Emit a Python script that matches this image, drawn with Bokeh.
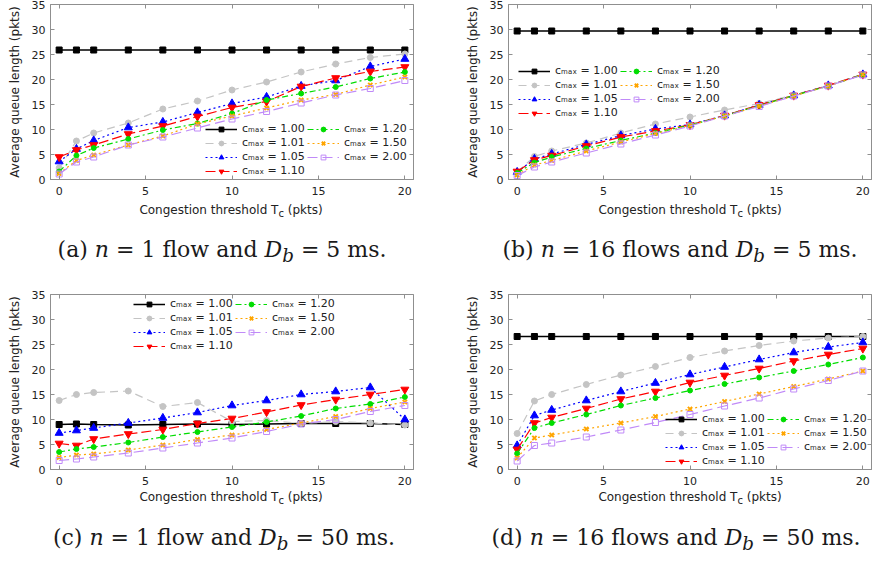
from bokeh.plotting import figure
from bokeh.models import (Range1d, FixedTicker, LinearAxis, Legend, LegendItem,
                          Div, ColumnDataSource)
from bokeh.layouts import column, row
from bokeh.embed import file_html
from bokeh.resources import INLINE

# ---------------- data ----------------
TC = [0, 1, 2, 4, 6, 8, 10, 12, 14, 16, 18, 20]
CMAX = ["1.00", "1.01", "1.05", "1.10", "1.20", "1.50", "2.00"]
X_TICKS = [0, 5, 10, 15, 20]
Y_TICKS = [0, 5, 10, 15, 20, 25, 30, 35]

# (a) n = 1 flow, Db = 5 ms
a_100 = [25.9, 25.9, 25.9, 25.9, 25.9, 25.9, 25.9, 25.9, 25.9, 25.9, 25.9, 25.9]
a_101 = [2.3, 7.7, 9.3, 11.3, 14.1, 15.7, 17.9, 19.5, 21.5, 23.1, 24.4, 25.1]
a_105 = [3.6, 6.1, 7.8, 10.4, 11.5, 13.4, 15.2, 16.5, 18.7, 19.8, 22.6, 24.1]
a_110 = [4.5, 5.9, 6.9, 9.1, 10.7, 12.6, 14.4, 15.6, 18.6, 20.3, 21.6, 22.5]
a_120 = [1.6, 4.8, 6.3, 8.1, 9.9, 11.2, 13.2, 15.9, 17.2, 18.5, 20.2, 21.5]
a_150 = [1.2, 3.8, 4.9, 6.9, 8.7, 11.1, 12.7, 14.3, 15.9, 17.0, 18.9, 20.5]
a_200 = [1.1, 3.5, 4.5, 6.9, 8.5, 10.3, 12.1, 13.6, 15.3, 16.9, 18.2, 19.8]

# (b) n = 16 flows, Db = 5 ms
b_100 = [29.7, 29.7, 29.7, 29.7, 29.7, 29.7, 29.7, 29.7, 29.7, 29.7, 29.7, 29.7]
b_101 = [1.5, 4.6, 5.7, 7.3, 9.3, 11.1, 12.5, 13.9, 15.2, 16.9, 18.8, 21.1]
b_105 = [1.5, 4.1, 5.1, 7.0, 8.8, 10.1, 11.0, 12.8, 14.9, 16.8, 18.8, 21.0]
b_110 = [1.6, 3.9, 4.8, 6.7, 8.5, 9.7, 10.9, 12.8, 14.9, 16.8, 18.8, 21.0]
b_120 = [1.3, 3.4, 4.5, 6.2, 7.8, 9.3, 10.9, 12.7, 14.8, 16.8, 18.7, 21.0]
b_150 = [0.9, 2.9, 3.8, 5.7, 7.5, 9.2, 10.8, 12.7, 14.7, 16.7, 18.7, 21.0]
b_200 = [0.8, 2.5, 3.5, 5.3, 7.1, 8.9, 10.7, 12.7, 14.6, 16.7, 18.7, 20.9]

# (c) n = 1 flow, Db = 50 ms
c_100 = [9.0, 9.1, 9.0, 8.9, 9.0, 9.1, 9.0, 9.1, 9.2, 9.2, 9.2, 9.0]
c_101 = [13.8, 15.0, 15.4, 15.7, 12.6, 13.4, 9.6, 9.8, 9.2, 9.6, 9.3, 8.9]
c_105 = [7.3, 7.8, 8.3, 9.3, 10.3, 11.4, 12.8, 13.8, 15.0, 15.6, 16.4, 10.0]
c_110 = [5.2, 4.8, 6.1, 7.1, 8.0, 9.2, 10.2, 11.5, 12.9, 14.0, 15.0, 16.0]
c_120 = [3.5, 4.1, 4.5, 5.4, 6.5, 7.5, 8.5, 9.5, 10.7, 12.2, 13.1, 14.5]
c_150 = [2.4, 2.9, 3.1, 3.9, 4.9, 6.0, 6.9, 8.0, 9.3, 10.6, 12.2, 13.5]
c_200 = [1.8, 2.1, 2.5, 3.3, 4.3, 5.3, 6.3, 7.6, 9.1, 10.0, 11.6, 12.8]

# (d) n = 16 flows, Db = 50 ms
d_100 = [26.6, 26.6, 26.6, 26.6, 26.6, 26.6, 26.6, 26.6, 26.6, 26.6, 26.6, 26.6]
d_101 = [7.2, 13.7, 15.0, 17.0, 18.9, 20.6, 22.4, 23.7, 24.8, 25.7, 26.3, 26.6]
d_105 = [4.8, 10.8, 11.9, 13.8, 15.6, 17.3, 19.0, 20.5, 22.0, 23.4, 24.5, 25.4]
d_110 = [4.0, 9.3, 10.4, 12.2, 14.1, 15.6, 17.4, 18.8, 20.2, 21.7, 23.0, 24.2]
d_120 = [3.2, 8.3, 9.3, 11.0, 12.8, 14.3, 15.8, 17.1, 18.4, 19.7, 21.0, 22.4]
d_150 = [2.3, 6.3, 6.9, 8.1, 9.3, 10.6, 12.1, 13.6, 15.1, 16.6, 18.1, 19.7]
d_200 = [1.7, 4.8, 5.3, 6.5, 7.9, 9.4, 11.0, 12.7, 14.3, 16.1, 17.8, 19.7]

X_TITLE = "Congestion threshold T<sub>c</sub> (pkts)"
Y_TITLE = "Average queue length (pkts)"
CAPTIONS = [
    "(a) <i>n</i> = 1 flow and <i>D<sub>b</sub></i> = 5 ms.",
    "(b) <i>n</i> = 16 flows and <i>D<sub>b</sub></i> = 5 ms.",
    "(c) <i>n</i> = 1 flow and <i>D<sub>b</sub></i> = 50 ms.",
    "(d) <i>n</i> = 16 flows and <i>D<sub>b</sub></i> = 50 ms.",
]

# ---------------- styles ----------------
GRAY = "#8f8f8f"
FONT = "DejaVu Sans"
STYLES = [
    dict(color="#000000", dash="solid", marker="square", size=6, fill=True, lw=1.4),
    dict(color="#c4c4c4", dash="8 5", marker="circle", size=6, fill=True, lw=1.2),
    dict(color="#0000ff", dash="2 3", marker="triangle", size=8, fill=True, lw=1.2),
    dict(color="#ff0000", dash="10 4", marker="inverted_triangle", size=8, fill=True, lw=1.2),
    dict(color="#00dd00", dash="6 3 2 3", marker="circle", size=5, fill=True, lw=1.2),
    dict(color="#ffa500", dash="2 3", marker="x", size=6, fill=True, lw=1.2),
    dict(color="#c08af8", dash="10 5", marker="square", size=6, fill=False, lw=1.2),
]


def make_panel(series, legend_xy, left_border, right_border):
    p = figure(width=436, height=200, x_range=Range1d(-0.5, 20.5),
               y_range=Range1d(0, 35), output_backend="svg", toolbar_location=None,
               min_border_left=left_border, min_border_right=right_border,
               min_border_top=4, min_border_bottom=21)
    p.xgrid.visible = False
    p.ygrid.visible = False
    p.outline_line_color = GRAY
    p.outline_line_width = 1

    p.xaxis.ticker = FixedTicker(ticks=X_TICKS)
    p.yaxis.ticker = FixedTicker(ticks=Y_TICKS)
    for ax in (p.xaxis[0], p.yaxis[0]):
        ax.axis_line_color = GRAY
        ax.major_tick_line_color = GRAY
        ax.major_tick_in = 4
        ax.major_tick_out = 0
        ax.minor_tick_line_color = None
        ax.major_label_text_font = FONT
        ax.major_label_text_font_size = "11px"
        ax.major_label_text_color = "#222222"
    p.xaxis.major_label_standoff = 7
    p.yaxis.major_label_standoff = 5
    p.yaxis.axis_label = Y_TITLE
    p.yaxis.axis_label_text_font = FONT
    p.yaxis.axis_label_text_font_size = "12px"
    p.yaxis.axis_label_text_font_style = "normal"
    p.yaxis.axis_label_text_color = "#222222"
    p.yaxis.axis_label_standoff = 7

    # mirrored ticks on top and right
    for loc, ticks in (("above", X_TICKS), ("right", Y_TICKS)):
        ax = LinearAxis(ticker=FixedTicker(ticks=ticks), axis_line_color=None,
                        major_tick_line_color=GRAY, major_tick_in=4, major_tick_out=0,
                        minor_tick_line_color=None, major_label_standoff=0,
                        major_label_text_font_size="1px",
                        major_label_overrides={t: "" for t in ticks})
        p.add_layout(ax, loc)

    items = []
    for i, (vals, st) in enumerate(zip(series, STYLES)):
        src = ColumnDataSource(dict(x=TC, y=vals))
        ln = p.line("x", "y", source=src, line_color=st["color"], line_width=st["lw"],
                    line_dash=st["dash"])
        sc = p.scatter("x", "y", source=src, marker=st["marker"], size=st["size"],
                       line_color=st["color"],
                       fill_color=st["color"] if st["fill"] else None,
                       line_width=2 if st["marker"] == "x" else 1)
        items.append(LegendItem(label="cₘₐₓ = " + CMAX[i], renderers=[ln, sc]))

    legend = Legend(items=items, location=legend_xy, ncols=2,
                    background_fill_alpha=0, border_line_color=None,
                    padding=0, margin=0, spacing=1,
                    glyph_width=32, glyph_height=12, label_height=12,
                    label_standoff=5, label_width=64,
                    label_text_font=FONT, label_text_font_size="11px",
                    label_text_color="#222222")
    p.add_layout(legend)
    return p


def titles(caption_html, xt_center, cap_center, height, xt_top, cap_top):
    html = (
        '<div style="position:relative;width:436px;height:%dpx;">'
        '<div style="position:absolute;left:%dpx;width:300px;top:%dpx;text-align:center;'
        'font-family:\'DejaVu Sans\';font-size:12px;line-height:14px;color:#222;'
        'white-space:nowrap">%s</div>'
        '<div style="position:absolute;left:%dpx;width:400px;top:%dpx;text-align:center;'
        'font-family:\'DejaVu Serif\';font-size:22px;line-height:24px;color:#1a1a1a;'
        'white-space:nowrap">%s</div></div>'
    ) % (height, xt_center - 150, xt_top, X_TITLE, cap_center - 200, cap_top, caption_html)
    return Div(text=html, width=436, height=height, margin=(0, 0, 0, 0))


pa = make_panel([a_100, a_101, a_105, a_110, a_120, a_150, a_200], (155, 2), 50, 23)
pb = make_panel([b_100, b_101, b_105, b_110, b_120, b_150, b_200], (10, 60), 72, 1)
pc = make_panel([c_100, c_101, c_105, c_110, c_120, c_150, c_200], (83, 117), 50, 23)
pd = make_panel([d_100, d_101, d_105, d_110, d_120, d_150, d_200], (157, 2), 72, 1)

for p in (pa, pb, pc, pd):
    p.margin = (0, 0, 0, 0)

left = column(pa, titles(CAPTIONS[0], 231, 222, 90, 3, 38),
              pc, titles(CAPTIONS[2], 231, 224, 71, 0, 36), spacing=0)
right = column(pb, titles(CAPTIONS[1], 254, 244, 90, 3, 38),
               pd, titles(CAPTIONS[3], 254, 240, 71, 0, 36), spacing=0)
layout = row(left, right, spacing=0)

open("out.html", "w").write(file_html(layout, INLINE))
